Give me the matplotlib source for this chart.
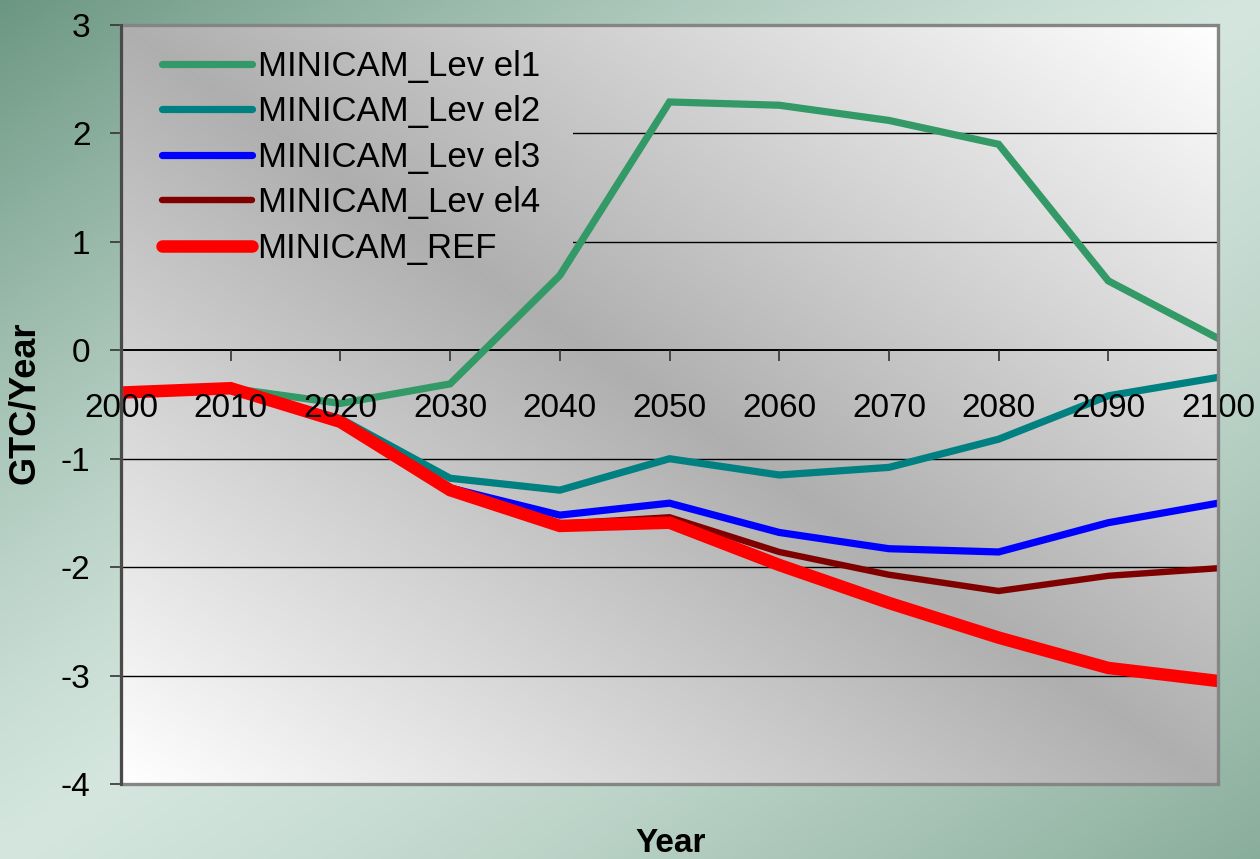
import matplotlib
matplotlib.use("Agg")
import matplotlib.pyplot as plt
import numpy as np
from matplotlib.patches import Rectangle

plt.rcParams["font.family"] = ["Liberation Sans", "DejaVu Sans"]

# Net carbon flux by scenario, GTC per year
years = [2000, 2010, 2020, 2030, 2040, 2050, 2060, 2070, 2080, 2090, 2100]
level1 = [-0.38, -0.35, -0.49, -0.31, 0.69, 2.29, 2.26, 2.12, 1.90, 0.64, 0.11]
level2 = [-0.38, -0.35, -0.63, -1.18, -1.29, -1.00, -1.15, -1.08, -0.82, -0.42, -0.25]
level3 = [-0.38, -0.35, -0.65, -1.27, -1.52, -1.41, -1.68, -1.83, -1.86, -1.59, -1.41]
level4 = [-0.38, -0.35, -0.65, -1.28, -1.60, -1.54, -1.86, -2.07, -2.22, -2.08, -2.01]
ref = [-0.39, -0.35, -0.66, -1.29, -1.62, -1.59, -1.98, -2.33, -2.65, -2.93, -3.05]

labels = ["MINICAM_Lev el1", "MINICAM_Lev el2", "MINICAM_Lev el3",
          "MINICAM_Lev el4", "MINICAM_REF"]
colors = ["#339966", "#008080", "#0000ff", "#800000", "#ff0000"]
widths = [5.2, 5.2, 5.2, 4.6, 9.0]
yticks = [-4, -3, -2, -1, 0, 1, 2, 3]

fig = plt.figure(figsize=(12.6, 8.59), dpi=100)

# green slide backdrop: darker towards top-left / bottom-right corners
bg = fig.add_axes([0, 0, 1, 1], zorder=-1)
bg.set_axis_off()
u = np.linspace(0, 1, 500)[None, :]
v = np.linspace(0, 1, 340)[:, None]
d = u + v - 1.0
light = np.array([0.83, 0.90, 0.87])
dark_tl = np.array([0.42, 0.59, 0.51])
dark_br = np.array([0.54, 0.68, 0.61])
t = np.abs(d)[..., None] ** 1.3
dark = np.where(d[..., None] < 0, dark_tl, dark_br)
bg.imshow(light + (dark - light) * t, aspect="auto", extent=[0, 1, 0, 1])
bg.set_xlim(0, 1)
bg.set_ylim(0, 1)

ax = fig.add_axes([121 / 1260, 75 / 859, 1097 / 1260, 759 / 859])

# plot area fill: white at bottom-left and top-right, grey along the middle
ax_u = np.linspace(0, 1, 400)[None, :]
ax_v = np.linspace(1, 0, 300)[:, None]
w = np.abs((ax_u + ax_v) / 2 - 0.5) * 2
grey = 0.685
fill = grey + (1 - grey) * w
fill_rgb = np.dstack([fill, fill, fill])
ext = [years[0], years[-1], yticks[0], yticks[-1]]
ax.imshow(fill_rgb, aspect="auto", extent=ext, zorder=0)

for y in [-3, -2, -1, 1, 2]:
    ax.axhline(y, color="black", lw=1.0, zorder=1)

for vals, lab, c, lw in zip([level1, level2, level3, level4, ref], labels, colors, widths):
    ax.plot(years, vals, color=c, lw=lw, label=lab, zorder=2,
            solid_capstyle="round", solid_joinstyle="miter")

ax.set_xlim(years[0], years[-1])
ax.set_ylim(yticks[0], yticks[-1])

ax.spines["bottom"].set_position(("data", 0))
ax.spines["bottom"].set_color("black")
ax.spines["bottom"].set_linewidth(1.4)
ax.spines["bottom"].set_zorder(1.5)
ax.spines["top"].set_visible(False)
ax.spines["right"].set_visible(False)
ax.spines["left"].set_color("#4a4a4a")
ax.spines["left"].set_linewidth(2.2)
ax.spines["left"].set_zorder(4)
ax.add_patch(Rectangle((0, 0), 1, 1, transform=ax.transAxes, fill=False,
                       edgecolor="#858585", lw=2.4, zorder=3, clip_on=False))

ax.set_xticks(years)
ax.set_xticklabels([str(y) for y in years], fontsize=24)
ax.set_yticks(yticks)
ax.set_yticklabels([str(y) for y in yticks], fontsize=24)
ax.tick_params(axis="x", direction="out", length=8, width=1.2, color="#333333", pad=23)
ax.tick_params(axis="y", direction="out", length=8, width=1.2, color="#333333", pad=14)
ax.xaxis.set_zorder(2.5)

ax.set_ylabel("GTC/Year", fontsize=26, fontweight="bold")
ax.yaxis.set_label_coords(-0.072, 0.502)
ax.set_xlabel("Year", fontsize=24, fontweight="bold", va="top")
ax.xaxis.set_label_coords(0.501, -0.058)

leg = ax.legend(loc="upper left", bbox_to_anchor=(0.028, 0.981), fontsize=25,
                handlelength=2.6, handletextpad=0.15, labelspacing=0.36,
                borderpad=0.3, borderaxespad=0, frameon=True)
leg.get_frame().set_facecolor("none")
leg.get_frame().set_edgecolor("none")

# hide the gridlines behind the legend with a clipped copy of the fill
fig.canvas.draw()
bb = leg.get_window_extent().transformed(ax.transAxes.inverted())
clip = Rectangle((0, bb.y0), bb.x1 + 0.02, bb.height, transform=ax.transAxes)
patch_img = ax.imshow(fill_rgb, aspect="auto", extent=ext, zorder=1.2)
patch_img.set_clip_path(clip)
ax.set_xlim(years[0], years[-1])
ax.set_ylim(yticks[0], yticks[-1])

fig.savefig("out.png", dpi=100)
